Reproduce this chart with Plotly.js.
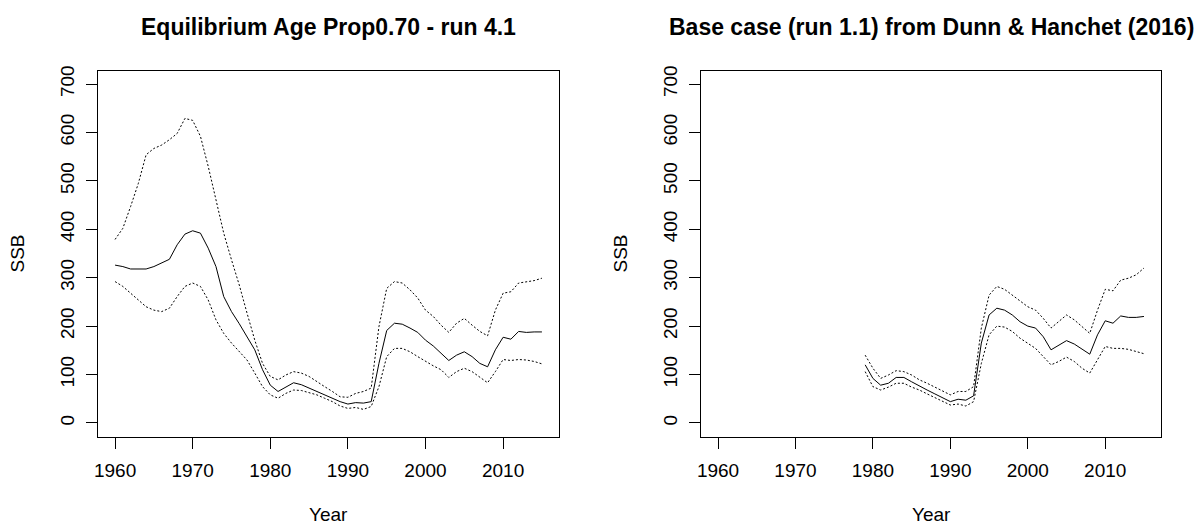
<!DOCTYPE html>
<html>
<head>
<meta charset="utf-8">
<script src="https://cdn.plot.ly/plotly-3.0.1.min.js"></script>
<style>
  html, body { margin: 0; padding: 0; background: #ffffff; }
  #chart { width: 1195px; height: 526px; }
</style>
</head>
<body>
<div id="chart"></div>
<script>
// ---- Data: left panel (Equilibrium Age Prop0.70 - run 4.1) ----
const yearsLeft = [1960,1961,1962,1963,1964,1965,1966,1967,1968,1969,
  1970,1971,1972,1973,1974,1975,1976,1977,1978,1979,
  1980,1981,1982,1983,1984,1985,1986,1987,1988,1989,
  1990,1991,1992,1993,1994,1995,1996,1997,1998,1999,
  2000,2001,2002,2003,2004,2005,2006,2007,2008,2009,
  2010,2011,2012,2013,2014,2015];
const ssbLeft = [326,323,318,318,318,323,330,338,368,390,
  397,392,361,323,261,230,205,178,151,110,
  78,65,74,83,79,72,65,58,51,44,
  39,42,41,44,123,191,206,204,196,187,
  171,159,144,129,140,147,137,123,116,151,
  177,173,189,187,188,188];
const upperLeft = [379,402,447,495,554,567,574,585,598,629,
  625,592,530,461,392,337,285,227,171,123,
  96,89,99,106,103,96,85,75,65,54,
  53,61,65,72,199,278,292,289,275,258,
  233,220,202,187,206,216,202,189,180,233,
  268,271,289,292,294,299];
const lowerLeft = [292,282,268,254,240,233,230,237,261,282,
  289,282,254,213,185,165,147,130,103,75,
  58,51,61,68,67,63,58,51,44,35,
  30,32,28,34,75,137,154,154,147,137,
  127,118,110,94,106,113,106,94,83,106,
  131,129,131,130,127,122];

// ---- Data: right panel (Base case (run 1.1) from Dunn & Hanchet (2016)) ----
const yearsRight = [1979,1980,1981,1982,1983,1984,1985,1986,1987,1988,1989,
  1990,1991,1992,1993,1994,1995,1996,1997,1998,1999,
  2000,2001,2002,2003,2004,2005,2006,2007,2008,2009,
  2010,2011,2012,2013,2014,2015];
const ssbRight = [120,92,78,82,94,94,85,76,68,60,52,
  44,49,47,56,165,223,237,233,223,209,
  200,196,178,151,161,170,163,152,142,182,
  211,206,221,218,218,220];
const upperRight = [140,113,92,99,108,106,99,89,82,74,67,
  58,65,65,75,196,264,282,276,264,251,
  240,233,216,196,209,223,213,199,185,233,
  276,273,295,299,306,320];
const lowerRight = [106,75,68,74,82,82,74,68,60,52,44,
  37,39,35,44,123,182,200,198,189,175,
  165,154,137,120,127,136,127,113,103,130,
  158,154,154,152,147,143];

const xTicks = [1960,1970,1980,1990,2000,2010];
const yTicks = [0,100,200,300,400,500,600,700];
const titles = ["Equilibrium Age Prop0.70 - run 4.1",
                "Base case (run 1.1) from Dunn & Hanchet (2016)"];
const xLabel = "Year";
const yLabel = "SSB";

// ---- Styling ----
const FONT = "Liberation Sans, Arial, sans-serif";
const solid = {color: "#000000", width: 1};
const dotted = {color: "#000000", width: 1, dash: "2px,2px"};

function trace(x, y, line, xa, ya, name) {
  return {x: x, y: y, type: "scatter", mode: "lines", line: line,
          xaxis: xa, yaxis: ya, name: name, showlegend: false, hoverinfo: "x+y"};
}

const data = [
  trace(yearsLeft, upperLeft, dotted, "x", "y", "Upper"),
  trace(yearsLeft, lowerLeft, dotted, "x", "y", "Lower"),
  trace(yearsLeft, ssbLeft, solid, "x", "y", "SSB"),
  trace(yearsRight, upperRight, dotted, "x2", "y2", "Upper"),
  trace(yearsRight, lowerRight, dotted, "x2", "y2", "Lower"),
  trace(yearsRight, ssbRight, solid, "x2", "y2", "SSB")
];

const W = 1195, H = 526;
const boxTop = 70.5, boxBottom = 436.5;
const leftDom = [98 / W, 559 / W];
const rightDom = [701 / W, 1161 / W];
const yDom = [(H - boxBottom) / H, (H - boxTop) / H];

function xAxis(dom, anchor) {
  return {
    domain: dom, anchor: anchor, range: [1957.8, 2017.2],
    tickmode: "array", tickvals: xTicks, ticktext: xTicks.map(String),
    ticks: "outside", ticklen: 11, tickwidth: 1, tickcolor: "#000",
    showline: true, linecolor: "#000", linewidth: 1, mirror: true,
    showgrid: false, zeroline: false,
    tickfont: {family: FONT, size: 19, color: "#000"},
    ticklabelstandoff: 6
  };
}
function yAxis(dom, anchor) {
  return {
    domain: dom, anchor: anchor, range: [-28, 728],
    tickmode: "array", tickvals: yTicks, ticktext: yTicks.map(String),
    ticks: "outside", ticklen: 11, tickwidth: 1, tickcolor: "#000",
    showline: true, linecolor: "#000", linewidth: 1, mirror: true,
    showgrid: false, zeroline: false, tickangle: -90,
    tickfont: {family: FONT, size: 19, color: "#000"},
    ticklabelstandoff: 4
  };
}

function ann(text, x, y, opts) {
  return Object.assign({text: text, x: x, y: y, xref: "paper", yref: "paper",
    showarrow: false, xanchor: "center", yanchor: "middle",
    font: {family: FONT, size: 19, color: "#000"}}, opts || {});
}

const layout = {
  width: W, height: H,
  margin: {l: 0, r: 0, t: 0, b: 0},
  paper_bgcolor: "#ffffff", plot_bgcolor: "#ffffff",
  showlegend: false,
  xaxis: xAxis(leftDom, "y"),
  yaxis: yAxis(yDom, "x"),
  xaxis2: xAxis(rightDom, "y2"),
  yaxis2: yAxis(yDom, "x2"),
  annotations: [
    ann(titles[0], (leftDom[0] + leftDom[1]) / 2, 1 - 27 / H,
        {font: {family: FONT, size: 23, color: "#000", weight: "bold"}}),
    ann(titles[1], (rightDom[0] + rightDom[1]) / 2, 1 - 27 / H,
        {font: {family: FONT, size: 23, color: "#000", weight: "bold"}}),
    ann(xLabel, (leftDom[0] + leftDom[1]) / 2, 1 - 514 / H),
    ann(xLabel, (rightDom[0] + rightDom[1]) / 2, 1 - 514 / H),
    ann(yLabel, 17 / W, (yDom[0] + yDom[1]) / 2, {textangle: -90}),
    ann(yLabel, 620 / W, (yDom[0] + yDom[1]) / 2, {textangle: -90})
  ]
};

Plotly.newPlot("chart", data, layout, {displayModeBar: false, staticPlot: true});
</script>
</body>
</html>
